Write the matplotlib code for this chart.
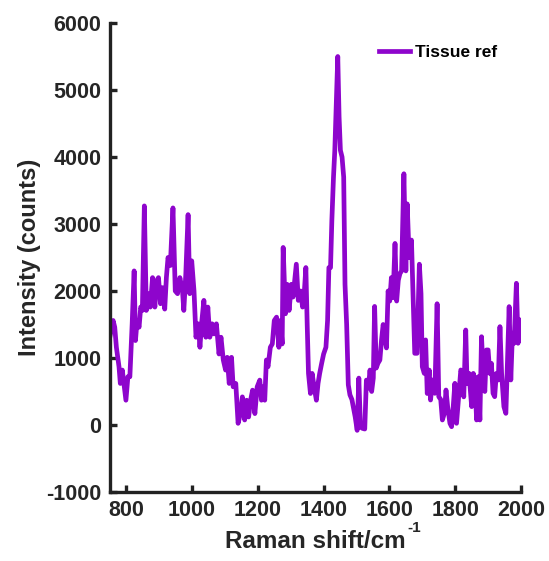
import matplotlib
matplotlib.use('Agg')
import matplotlib.pyplot as plt

plt.rcParams['font.family'] = ['Liberation Sans', 'DejaVu Sans']
plt.rcParams['font.weight'] = 'bold'
plt.rcParams['axes.unicode_minus'] = False

# spectrum
shift = [750, 760, 765, 770, 778, 782, 788, 793, 799, 805, 811, 818, 824, 828, 833, 839, 844, 849,
         855, 861, 868, 873, 880, 887, 892, 898, 904, 910, 917, 922, 927, 934, 942, 949, 956, 963,
         971, 975, 981, 988, 993, 999, 1006, 1012, 1019, 1024, 1029, 1036, 1042, 1048, 1054, 1061,
         1067, 1074, 1082, 1088, 1095, 1102, 1107, 1113, 1120, 1125, 1133, 1140, 1147, 1153, 1160,
         1166, 1172, 1178, 1184, 1191, 1198, 1206, 1211, 1216, 1221, 1226, 1231, 1238, 1244, 1250,
         1257, 1264, 1269, 1274, 1277, 1284, 1289, 1295, 1302, 1307, 1312, 1317, 1323, 1330, 1336,
         1341, 1346, 1350, 1354, 1360, 1365, 1371, 1378, 1383, 1388, 1394, 1400, 1407, 1412, 1416,
         1421, 1425, 1430, 1434, 1438, 1443, 1447, 1451, 1456, 1461, 1465, 1470, 1475, 1480, 1486,
         1491, 1496, 1502, 1507, 1512, 1518, 1525, 1530, 1536, 1541, 1546, 1551, 1555, 1560, 1565,
         1571, 1576, 1581, 1586, 1591, 1596, 1601, 1606, 1611, 1617, 1622, 1627, 1632, 1637, 1644,
         1650, 1654, 1660, 1667, 1672, 1677, 1684, 1691, 1696, 1700, 1706, 1710, 1715, 1721, 1725,
         1731, 1738, 1745, 1750, 1756, 1761, 1767, 1772, 1777, 1784, 1789, 1794, 1799, 1804, 1812,
         1817, 1822, 1826, 1832, 1836, 1842, 1850, 1855, 1860, 1865, 1870, 1875, 1880, 1885, 1890,
         1895, 1900, 1905, 1910, 1915, 1920, 1925, 1931, 1936, 1941, 1948, 1954, 1959, 1964, 1969,
         1974, 1979, 1986, 1991, 1996, 2000]
counts = [1310, 1560, 1460, 1160, 870, 620, 820, 620, 370, 720, 720, 1510, 2300, 1260, 1560, 1460,
          1760, 1710, 3270, 1710, 1960, 1760, 2200, 1760, 2150, 2200, 1810, 2050, 1730, 2200, 2500,
          2380, 3240, 2000, 1960, 2200, 2000, 1710, 2250, 3140, 1960, 2450, 2000, 1310, 1510, 1160,
          1510, 1860, 1310, 1760, 1310, 1510, 1360, 1510, 1060, 1310, 970, 820, 1010, 620, 1010, 570,
          620, 25, 170, 420, 75, 370, 120, 370, 520, 170, 570, 670, 370, 570, 370, 970, 870, 1160,
          1210, 1560, 1610, 1160, 1560, 1210, 2650, 1660, 2100, 1710, 2100, 1910, 2150, 2400, 1860,
          2000, 1760, 1960, 2350, 1510, 770, 470, 770, 570, 370, 620, 770, 920, 1060, 1160, 1560,
          2350, 2350, 3050, 3700, 4100, 4700, 5500, 4600, 4100, 4000, 3700, 2100, 1500, 600, 450,
          380, 250, 120, -80, 700, -30, -50, -60, 670, 550, 820, 500, 700, 1770, 850, 920, 970, 1270,
          1500, 1300, 1150, 2000, 1850, 2200, 1900, 2710, 1850, 2160, 2260, 2300, 3750, 2300, 3300,
          2500, 2760, 1900, 1070, 1070, 2400, 1960, 870, 770, 1270, 470, 820, 373, 672, 473, 1810,
          423, 380, 75, 174, 522, 274, 25, -25, 274, 622, 25, 522, 821, 770, 420, 1418, 620, 770,
          274, 770, 670, 75, 720, 75, 1318, 770, 500, 1120, 1120, 770, 920, 473, 423, 770, 672, 1468,
          770, 274, 174, 970, 1767, 672, 1370, 1220, 2115, 1220, 1570, 1270]

xticks = [800, 1000, 1200, 1400, 1600, 1800, 2000]
yticks = [-1000, 0, 1000, 2000, 3000, 4000, 5000, 6000]

fig = plt.figure(figsize=(5.49, 5.61), dpi=100)
ax = fig.add_axes([0.200, 0.123, 0.749, 0.836])

ax.plot(shift, counts, color='#8E05CC', lw=3.4, label='Tissue ref')

ax.set_xlim(750, 2000)
ax.set_ylim(-1000, 6000)
ax.set_xticks(xticks)
ax.set_yticks(yticks)

for s in ['top', 'right']:
    ax.spines[s].set_visible(False)
for s in ['left', 'bottom']:
    ax.spines[s].set_linewidth(2.4)
    ax.spines[s].set_color('#222222')
ax.tick_params(direction='in', length=5, width=2.4, color='#222222',
               labelsize=15.5, labelcolor='#262626', pad=6)

ax.set_xlabel('Raman shift/cm', fontsize=17.5, fontweight='bold', color='#262626', labelpad=6)
ax.set_ylabel('Intensity (counts)', fontsize=17, fontweight='bold', color='#262626')
# superscript -1 after the x label
ax.annotate('-1', xy=(1, 1), xycoords=ax.xaxis.label, xytext=(1, 6),
            textcoords='offset points', fontsize=11, fontweight='bold', color='#262626',
            ha='left', va='top')

leg = ax.legend(loc='center left', bbox_to_anchor=(0.655, 0.938), frameon=False,
                fontsize=12.5, handlelength=1.8, handletextpad=0.25,
                borderpad=0, borderaxespad=0)
for t in leg.get_texts():
    t.set_fontweight('bold')

fig.savefig('out.png', dpi=100)
